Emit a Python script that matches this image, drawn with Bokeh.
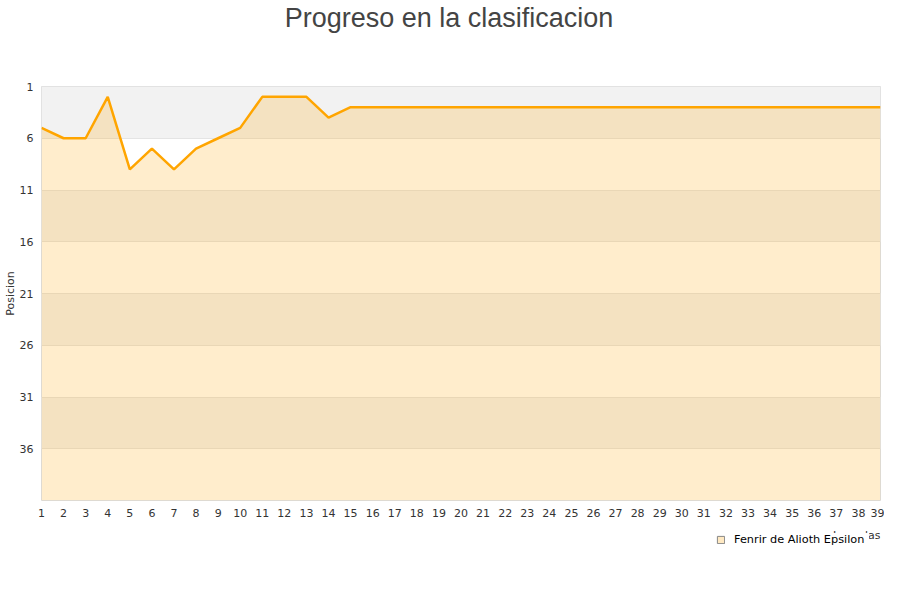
from bokeh.plotting import figure
from bokeh.models import Range1d, FixedTicker, Legend, LegendItem, Label
from bokeh.layouts import column
from bokeh.embed import file_html
from bokeh.resources import INLINE

# Data
jornadas = [1, 2, 3, 4, 5, 6, 7, 8, 9, 10, 11, 12, 13, 14, 15, 16, 17, 18, 19, 20,
            21, 22, 23, 24, 25, 26, 27, 28, 29, 30, 31, 32, 33, 34, 35, 36, 37, 38, 39]
posiciones = [5, 6, 6, 2, 9, 7, 9, 7, 6, 5, 2, 2, 2, 4, 3, 3, 3, 3, 3, 3,
              3, 3, 3, 3, 3, 3, 3, 3, 3, 3, 3, 3, 3, 3, 3, 3, 3, 3, 3]
y_ticks = [1, 6, 11, 16, 21, 26, 31, 36]
band_bottoms = [6, 16, 26, 36]
band_tops = [1, 11, 21, 31]
pos_max = 41
equipo = "Fenrir de Alioth Epsilon"
titulo = "Progreso en la clasificacion"
eje_x = "Jornadas"

FONT = "DejaVu Sans"
W = 884
LEFT, RIGHT = 40, 4


def strip(h):
    fig = figure(width=W, height=h, output_backend="svg", toolbar_location=None, title=None,
                 x_range=Range1d(LEFT, W - RIGHT), y_range=Range1d(h, 0),
                 x_axis_location=None, y_axis_location=None,
                 min_border_left=LEFT, min_border_right=RIGHT,
                 min_border_top=0, min_border_bottom=0,
                 background_fill_color="white", border_fill_color="white")
    fig.grid.visible = False
    fig.outline_line_color = None
    return fig


# ---- title strip ----
ft = strip(60)
ft.add_layout(Label(x=448, y=17, text=titulo, text_align="center", text_baseline="alphabetic",
                    text_font="Liberation Sans", text_font_size="27px", text_color="#444444"))

# ---- main chart ----
p = figure(width=W, height=465, output_backend="svg", toolbar_location=None,
           x_range=Range1d(jornadas[0], jornadas[-1]),
           y_range=Range1d(pos_max, 1),
           min_border_left=LEFT, min_border_right=RIGHT, min_border_top=26, min_border_bottom=25,
           background_fill_color="white", border_fill_color="white")

p.outline_line_color = "#dddddd"
p.outline_line_width = 1

# alternating bands
p.quad(left=jornadas[0], right=jornadas[-1], top=band_tops, bottom=band_bottoms,
       fill_color="#f2f2f2", line_color=None, level="image")

p.xgrid.visible = False
p.ygrid.ticker = FixedTicker(ticks=y_ticks[1:])
p.ygrid.grid_line_color = "#e4e4e4"

p.varea(x=jornadas, y1=posiciones, y2=pos_max, fill_color="#ffa500", fill_alpha=0.2)
p.line(x=jornadas, y=posiciones, line_color="#ffa500", line_width=2.5)

p.xaxis.ticker = FixedTicker(ticks=jornadas)
p.yaxis.ticker = FixedTicker(ticks=y_ticks)
for ax in (p.xaxis[0], p.yaxis[0]):
    ax.axis_line_color = None
    ax.major_tick_line_color = None
    ax.minor_tick_line_color = None
    ax.major_tick_out = 0
    ax.major_tick_in = 0
    ax.major_label_text_font = FONT
    ax.major_label_text_font_size = "11px"
    ax.major_label_text_color = "#333333"
p.xaxis.major_label_standoff = 8
p.yaxis.major_label_standoff = 8
p.yaxis.axis_label = "Posicion"
p.yaxis.axis_label_text_font = FONT
p.yaxis.axis_label_text_font_size = "11px"
p.yaxis.axis_label_text_font_style = "normal"
p.yaxis.axis_label_text_color = "#333333"
p.yaxis.axis_label_standoff = 0

# ---- legend strip ----
fl = strip(59)
fl.add_layout(Label(x=880, y=10, text=eje_x, text_align="right", text_baseline="alphabetic",
                    text_font=FONT, text_font_size="11px", text_color="#333333"))
# hidden proxy renderer that only provides the legend swatch
swatch = fl.quad(left=[0], right=[1], top=[0], bottom=[1], fill_color="#ffe9c2",
                 line_color="#888888", line_width=1, visible=False)
legend = Legend(items=[LegendItem(label=equipo, renderers=[swatch])],
                location=(675, 38), orientation="horizontal", click_policy="none",
                label_text_font=FONT, label_text_font_size="11.3px", label_text_color="#000000",
                glyph_width=9, glyph_height=9, label_height=12, label_width=135, label_standoff=9,
                padding=5, spacing=4, margin=0,
                border_line_color=None, background_fill_color="white", background_fill_alpha=1.0)
fl.add_layout(legend, "center")

layout = column(ft, p, fl, spacing=0)
open("out.html", "w").write(file_html(layout, INLINE))
